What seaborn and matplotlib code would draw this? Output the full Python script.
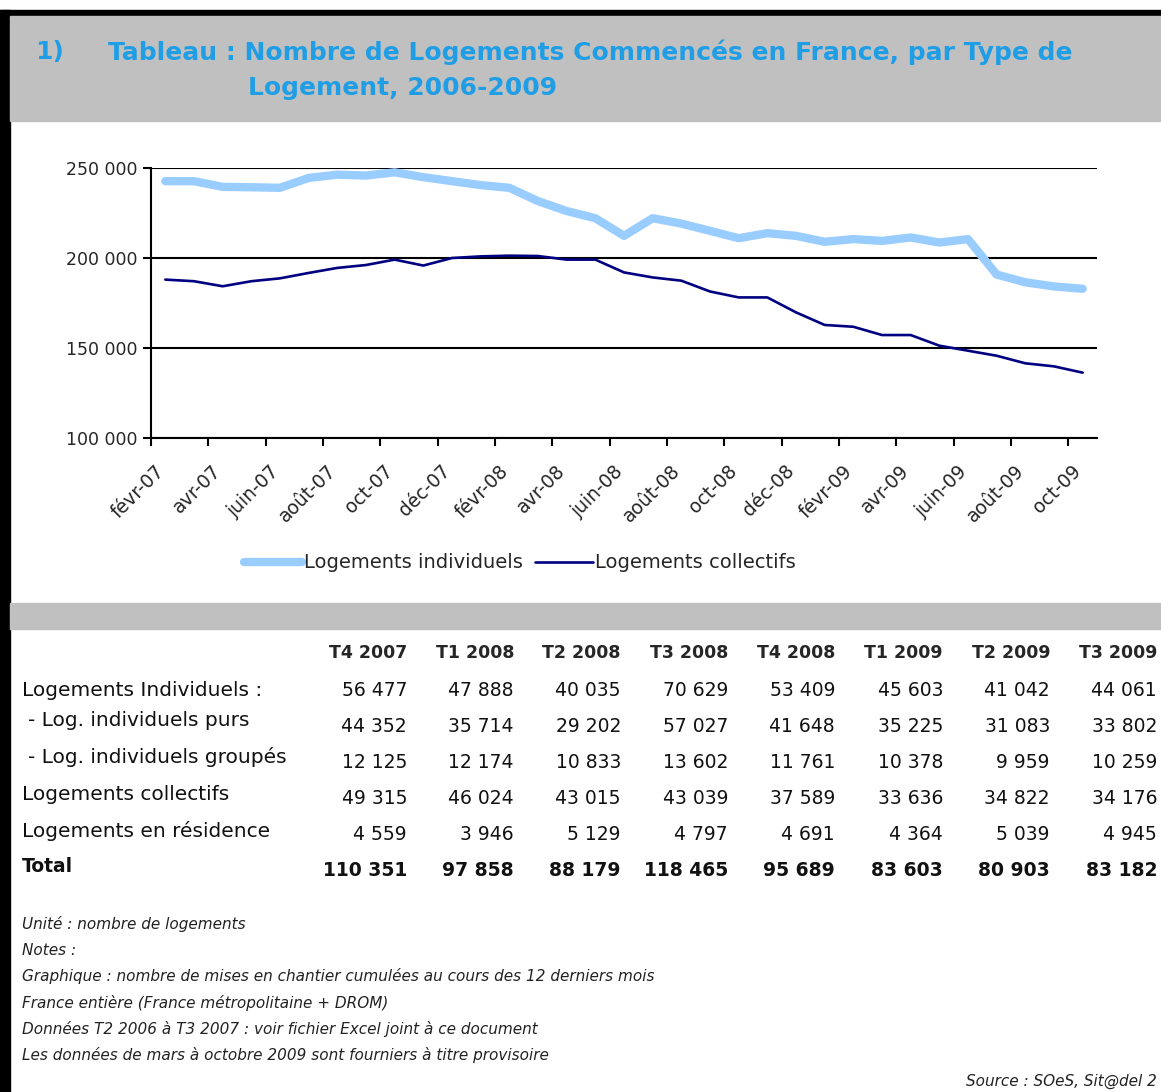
import matplotlib

matplotlib.use("Agg")

import matplotlib.pyplot as plt
import pandas as pd
import seaborn as sns
from matplotlib.patches import Rectangle
from matplotlib.ticker import FuncFormatter

W, H = 1161, 1092

months = [
    "févr-07", "mars-07", "avr-07", "mai-07", "juin-07", "juil-07", "août-07", "sept-07",
    "oct-07", "nov-07", "déc-07", "janv-08", "févr-08", "mars-08", "avr-08", "mai-08",
    "juin-08", "juil-08", "août-08", "sept-08", "oct-08", "nov-08", "déc-08", "janv-09",
    "févr-09", "mars-09", "avr-09", "mai-09", "juin-09", "juil-09", "août-09", "sept-09",
    "oct-09",
]
individuels = [
    242700, 242700, 239500, 239300, 239000, 244500, 246300, 245800, 247600, 244900,
    242700, 240500, 239000, 231600, 226100, 222100, 212300, 222100, 219100, 215100,
    211000, 213800, 212300, 209000, 210500, 209500, 211400, 208600, 210500, 190800,
    186500, 184200, 182900,
]
collectifs = [
    188000, 187100, 184300, 187100, 188700, 191700, 194500, 196100, 199100, 195800,
    200000, 200900, 201300, 201100, 199100, 199100, 192000, 189200, 187400, 181400,
    178100, 178100, 169800, 162800, 161800, 157200, 157200, 151300, 148500, 145700,
    141500, 139800, 136300,
]

quarters = ["T4 2007", "T1 2008", "T2 2008", "T3 2008", "T4 2008", "T1 2009", "T2 2009", "T3 2009"]
row_labels = [
    "Logements Individuels :",
    "- Log. individuels purs",
    "- Log. individuels groupés",
    "Logements collectifs",
    "Logements en résidence",
    "Total",
]
ind_total = [56477, 47888, 40035, 70629, 53409, 45603, 41042, 44061]
ind_purs = [44352, 35714, 29202, 57027, 41648, 35225, 31083, 33802]
ind_groupes = [12125, 12174, 10833, 13602, 11761, 10378, 9959, 10259]
coll_table = [49315, 46024, 43015, 43039, 37589, 33636, 34822, 34176]
residence = [4559, 3946, 5129, 4797, 4691, 4364, 5039, 4945]
totals = [110351, 97858, 88179, 118465, 95689, 83603, 80903, 83182]

notes = [
    "Unité : nombre de logements",
    "Notes :",
    "Graphique : nombre de mises en chantier cumulées au cours des 12 derniers mois",
    "France entière (France métropolitaine + DROM)",
    "Données T2 2006 à T3 2007 : voir fichier Excel joint à ce document",
    "Les données de mars à octobre 2009 sont fourniers à titre provisoire",
]

TITLE_BLUE = "#1f9ee6"
LIGHT = "#99ccff"
NAVY = "#000080"


def fx(x):
    return x / W


def fy(y):
    return 1 - y / H


def fmt_num(v):
    return f"{int(v):,}".replace(",", " ")


sns.set_theme(style="white")
plt.rcParams["font.family"] = ["DejaVu Sans"]

fig = plt.figure(figsize=(W / 100, H / 100), dpi=100)

# frame and grey bands
fig.patches.append(Rectangle((0, 0), fx(10), fy(10), transform=fig.transFigure,
                             color="black", zorder=0))
fig.patches.append(Rectangle((0, fy(16)), 1, fy(10) - fy(16), transform=fig.transFigure,
                             color="black", zorder=0))
fig.patches.append(Rectangle((fx(10), fy(121)), 1, fy(16) - fy(121), transform=fig.transFigure,
                             color="#c0c0c0", zorder=0))
fig.patches.append(Rectangle((fx(10), fy(629)), 1, fy(603) - fy(629), transform=fig.transFigure,
                             color="#c0c0c0", zorder=0))

fig.text(fx(35), fy(52), "1)", color=TITLE_BLUE, fontsize=18, fontweight="bold", va="center")
fig.text(fx(108), fy(52), "Tableau : Nombre de Logements Commencés en France, par Type de",
         color=TITLE_BLUE, fontsize=18, fontweight="bold", va="center")
fig.text(fx(248), fy(88), "Logement, 2006-2009", color=TITLE_BLUE, fontsize=18,
         fontweight="bold", va="center")

# line chart
ax = fig.add_axes([fx(151), fy(438), fx(1097) - fx(151), fy(168) - fy(438)])
df = pd.DataFrame({
    "pos": list(range(len(months))),
    "mois": months,
    "Logements individuels": individuels,
    "Logements collectifs": collectifs,
})
sns.lineplot(data=df, x="pos", y="Logements individuels", ax=ax, color=LIGHT, linewidth=6,
             solid_capstyle="round", label="Logements individuels")
sns.lineplot(data=df, x="pos", y="Logements collectifs", ax=ax, color=NAVY, linewidth=1.9,
             label="Logements collectifs")

ax.set_xlim(-0.5, len(months) - 0.5)
ax.set_ylim(100000, 250000)
ax.set_yticks([100000, 150000, 200000, 250000])
ax.yaxis.set_major_formatter(FuncFormatter(lambda v, p: fmt_num(v)))
ax.grid(axis="y", color="black", linewidth=1.5)
ax.set_axisbelow(True)
ax.set_xlabel("")
ax.set_ylabel("")
for side in ("top", "right"):
    ax.spines[side].set_visible(False)
for side in ("left", "bottom"):
    ax.spines[side].set_color("black")
    ax.spines[side].set_linewidth(1.5)

# boundary ticks every two months, labels slightly left of the category centre
ax.set_xticks([i - 0.5 for i in range(0, len(months), 2)])
ax.set_xticklabels([])
ax.set_xticks([i - 0.38 for i in range(0, len(months), 2)], minor=True)
ax.set_xticklabels(months[::2], minor=True, rotation=45, ha="right", rotation_mode="anchor",
                   fontsize=13.5)
ax.tick_params(axis="x", which="major", direction="out", length=6, width=1.5, color="black",
               bottom=True)
ax.tick_params(axis="x", which="minor", length=0, pad=17, bottom=True)
ax.tick_params(axis="y", direction="out", length=6, width=1.5, color="black", left=True,
               labelsize=12.5, pad=4)

handles, labels = ax.get_legend_handles_labels()
ax.legend(handles, labels, loc="center", bbox_to_anchor=(fx(520), fy(563)),
          bbox_transform=fig.transFigure, ncol=2, frameon=False, fontsize=14,
          handlelength=3.0, handletextpad=0.1, columnspacing=0.6)

# table
col_right = [407, 514, 621, 728, 835, 943, 1050, 1157]
for q, xr in zip(quarters, col_right):
    fig.text(fx(xr), fy(653), q, ha="right", va="center", fontsize=12.5, fontweight="bold")

label_y = [690, 721, 757, 795, 831, 866]
num_y = [690, 726, 762, 799, 835, 871]
label_x = [22, 28, 28, 22, 22, 22]
rows = [ind_total, ind_purs, ind_groupes, coll_table, residence, totals]
for i, (lab, vals) in enumerate(zip(row_labels, rows)):
    weight = "bold" if lab == "Total" else "normal"
    fig.text(fx(label_x[i]), fy(label_y[i]), lab, ha="left", va="center",
             fontsize=13.5 if lab == "Total" else 14.5, fontweight=weight, color="#111111")
    for v, xr in zip(vals, col_right):
        fig.text(fx(xr), fy(num_y[i]), fmt_num(v), ha="right", va="center", fontsize=13.5,
                 fontweight=weight, color="#111111")

# notes
for k, line in enumerate(notes):
    fig.text(fx(22), fy(924 + 26.2 * k), line, ha="left", va="center", fontsize=11,
             style="italic", color="#222222")
fig.text(fx(1157), fy(1081), "Source : SOeS, Sit@del 2", ha="right", va="center", fontsize=11,
         style="italic", color="#222222")

fig.savefig("out.png", dpi=100)
